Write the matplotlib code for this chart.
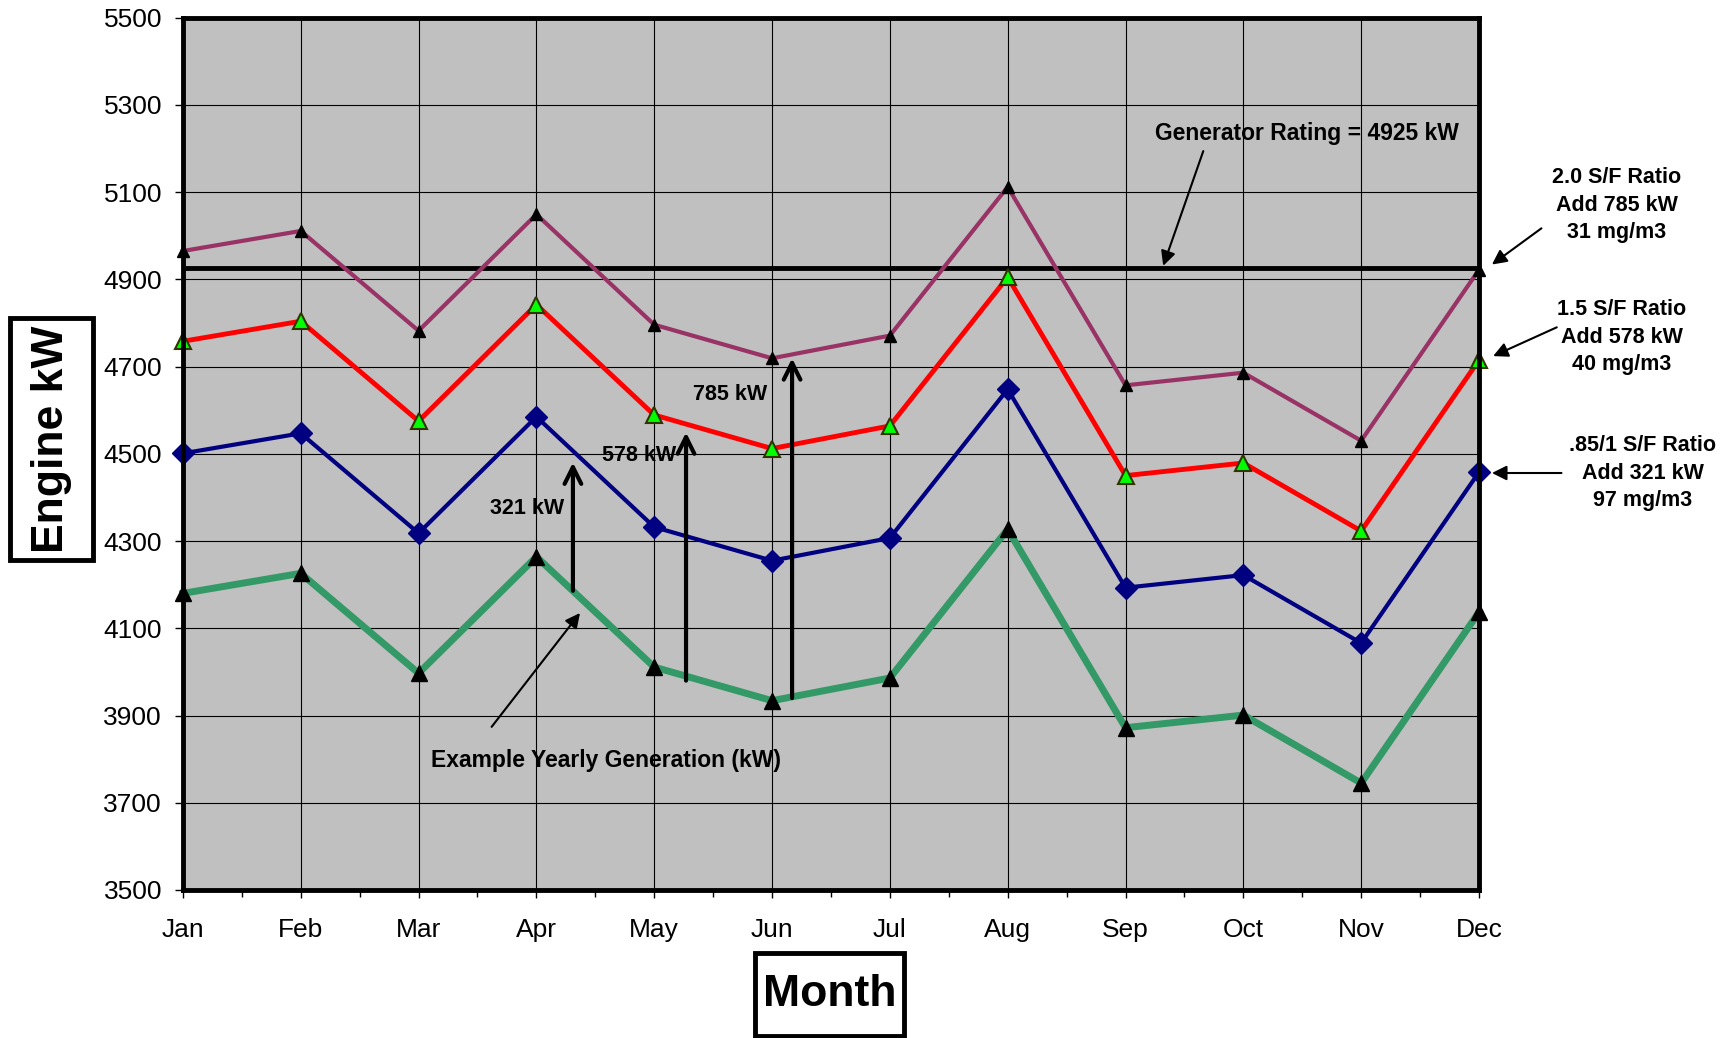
import matplotlib.pyplot as plt
from matplotlib.patches import Rectangle
from matplotlib.ticker import MultipleLocator

plt.rcParams['font.family'] = ['Liberation Sans', 'DejaVu Sans']

months = ['Jan', 'Feb', 'Mar', 'Apr', 'May', 'Jun', 'Jul', 'Aug', 'Sep', 'Oct', 'Nov', 'Dec']

# engine output per month (kW)
base_kw = [4180, 4226, 3997, 4264, 4011, 3934, 3986, 4327, 3872, 3901, 3745, 4137]
sf085_kw = [4501, 4547, 4318, 4585, 4332, 4255, 4307, 4648, 4193, 4222, 4066, 4458]
sf15_kw = [4758, 4804, 4575, 4842, 4589, 4512, 4564, 4905, 4450, 4479, 4323, 4715]
sf20_kw = [4965, 5011, 4782, 5049, 4796, 4719, 4771, 5112, 4657, 4686, 4530, 4922]

generator_rating = 4925
added_kw = [321, 578, 785]
yticks = list(range(3500, 5501, 200))

x = list(range(len(months)))

fig = plt.figure(figsize=(17.29, 10.38), dpi=100)
ax = fig.add_axes([0.1058, 0.1426, 0.7496, 0.8404])
ax.set_facecolor('#C0C0C0')

ax.plot(x, base_kw, color='#339966', lw=5, marker='^', ms=12,
        mfc='black', mec='black', zorder=5, clip_on=False)
ax.plot(x, sf085_kw, color='#000080', lw=3, marker='D', ms=11,
        mfc='#000080', mec='#000080', zorder=5, clip_on=False)
ax.plot(x, sf15_kw, color='#FF0000', lw=3.5, marker='^', ms=11,
        mfc='#00FF00', mec='#333300', mew=1.5, zorder=5, clip_on=False)
ax.plot(x, sf20_kw, color='#993366', lw=3, marker='^', ms=8,
        mfc='black', mec='black', zorder=5, clip_on=False)

ax.axhline(generator_rating, color='black', lw=3.5, zorder=4)

ax.set_xlim(0, 11)
ax.set_ylim(3500, 5500)
ax.set_xticks(x)
ax.set_xticklabels(months)
ax.set_yticks(yticks)
ax.xaxis.set_minor_locator(MultipleLocator(0.5))
ax.grid(True, which='major', color='black', lw=0.8)
ax.tick_params(axis='x', which='major', labelsize=19, pad=14, length=6, width=1)
ax.tick_params(axis='x', which='minor', length=5, width=1)
ax.tick_params(axis='y', labelsize=19, pad=9, length=6, width=1)
for sp in ax.spines.values():
    sp.set_linewidth(3.5)
    sp.set_zorder(6)

bold = dict(fontweight='bold', ha='center', va='center')
head = dict(arrowstyle='-|>', lw=1.5, color='black', mutation_scale=22,
            shrinkA=0, shrinkB=0)

# arrows showing the added kW above the base generation
arrow_x = [3.31, 4.27, 5.17]
arrow_from = [4186, 3980, 3940]
arrow_to = [4480, 4549, 4719]
label_pos = [(2.92, 4375), (3.87, 4496), (4.64, 4635)]
for xa, y0, y1, kw, (lx, ly) in zip(arrow_x, arrow_from, arrow_to, added_kw, label_pos):
    ax.annotate('', xy=(xa, y1), xytext=(xa, y0),
                arrowprops=dict(arrowstyle='->', lw=3, color='black',
                                mutation_scale=30, shrinkA=0, shrinkB=0), zorder=7)
    ax.text(lx, ly, f'{kw} kW', fontsize=15.5, zorder=7, **bold)

ax.text(3.59, 3796, 'Example Yearly Generation (kW)', fontsize=16.5, **bold)
ax.annotate('', xy=(3.37, 4135), xytext=(2.62, 3874), arrowprops=head)

ax.text(9.54, 5234, f'Generator Rating = {generator_rating} kW', fontsize=16.5, **bold)
ax.annotate('', xy=(8.32, generator_rating + 6), xytext=(8.66, 5194), arrowprops=head)

# labels to the right of the plot
side_notes = [
    ('2.0 S/F Ratio\nAdd 785 kW\n31 mg/m3', (12.17, 5070), (11.53, 5017), (11.11, 4934)),
    ('1.5 S/F Ratio\nAdd 578 kW\n40 mg/m3', (12.21, 4767), (11.66, 4790), (11.12, 4724)),
    ('.85/1 S/F Ratio\nAdd 321 kW\n97 mg/m3', (12.39, 4456), (11.70, 4456), (11.11, 4456)),
]
for txt, tpos, a0, a1 in side_notes:
    ax.text(tpos[0], tpos[1], txt, fontsize=15.5, linespacing=1.4, clip_on=False, **bold)
    ax.annotate('', xy=a1, xytext=a0, annotation_clip=False, arrowprops=head)

# boxed axis titles
W, H = 1729, 1038
fig.patches.append(Rectangle((10 / W, 1 - 560 / H), 83 / W, 242 / H, transform=fig.transFigure,
                             fc='white', ec='black', lw=3.5))
fig.text(51 / W, 1 - 439 / H, 'Engine kW', rotation=90, ha='center', va='center',
         fontsize=32, fontweight='bold')
fig.patches.append(Rectangle((755 / W, 1 - 1036 / H), 149 / W, 83 / H, transform=fig.transFigure,
                             fc='white', ec='black', lw=3.5))
fig.text(830 / W, 1 - 994 / H, 'Month', ha='center', va='center',
         fontsize=32, fontweight='bold')

fig.savefig('out.png', dpi=100)
